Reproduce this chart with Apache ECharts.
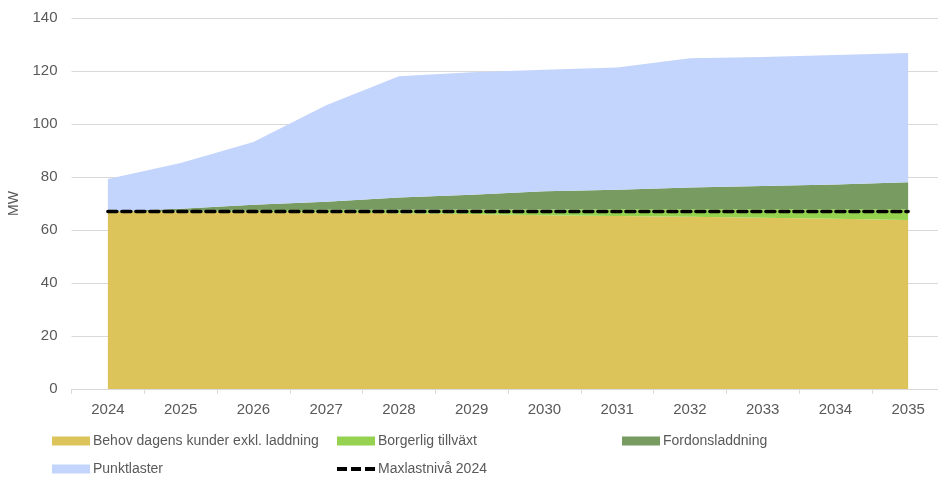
<!DOCTYPE html>
<html>
<head>
<meta charset="utf-8">
<script src="https://cdn.jsdelivr.net/npm/echarts@6/dist/echarts.min.js"></script>
<style>
  html, body { margin: 0; padding: 0; background: #fff; }
  #chart { width: 938px; height: 479px; }
</style>
</head>
<body>
<div id="chart"></div>
<script>
const years = ['2024', '2025', '2026', '2027', '2028', '2029', '2030', '2031', '2032', '2033', '2034', '2035'];
const behov = [67, 67, 66.8, 66.6, 66.3, 66, 65.6, 65.3, 65, 64.6, 64.2, 63.8];
const borgerlig = [0, 0.3, 0.6, 1.0, 1.3, 1.7, 2.1, 2.5, 2.8, 3.2, 3.6, 4.0];
const fordon = [0, 0.7, 2.1, 3.1, 4.7, 5.6, 6.9, 7.4, 8.2, 8.8, 9.4, 10.2];
const punkt = [12.2, 17.3, 23.7, 36.4, 45.7, 46.2, 45.9, 46.1, 48.8, 48.7, 48.8, 48.8];
const maxlast = [67, 67, 67, 67, 67, 67, 67, 67, 67, 67, 67, 67];

const textColor = '#595959';
const font = 'Liberation Sans';
const chart = echarts.init(document.getElementById('chart'));

function areaSeries (name, data, color) {
  return {
    name: name,
    type: 'line',
    stack: 'total',
    data: data,
    symbol: 'none',
    color: color,
    lineStyle: { width: 0 },
    areaStyle: { color: color, opacity: 1 },
    emphasis: { disabled: true }
  };
}

// en legend per post, så att de hamnar i samma rutnät som originalet
function legendItem (name, left, top, icon, h) {
  return {
    left: left,
    top: top,
    padding: 0,
    itemWidth: 38,
    itemHeight: h || 9,
    itemGap: 0,
    selectedMode: false,
    textStyle: { color: textColor, fontSize: 14, fontFamily: font, padding: [0, 0, 0, -2] },
    data: [{ name: name, icon: icon || 'rect' }]
  };
}

const dashIcon = 'path://M0,0h10v4h-10z M14,0h10v4h-10z M28,0h10v4h-10z';

chart.setOption({
  animation: false,
  grid: { left: 71.5, top: 18, width: 873, height: 371, outerBoundsMode: 'none' },
  legend: [
    legendItem('Behov dagens kunder exkl. laddning', 52, 434),
    legendItem('Borgerlig tillväxt', 337, 434),
    legendItem('Fordonsladdning', 622, 434),
    legendItem('Punktlaster', 52, 462),
    legendItem('Maxlastnivå 2024', 337, 462, dashIcon, 4)
  ],
  xAxis: {
    type: 'category',
    data: years,
    boundaryGap: true,
    axisLine: { lineStyle: { color: '#D9D9D9', width: 1 } },
    axisTick: { show: true, length: 5, lineStyle: { color: '#D9D9D9' } },
    axisLabel: { color: textColor, fontSize: 15, fontFamily: font, margin: 13 }
  },
  yAxis: {
    type: 'value',
    min: 0,
    max: 140,
    interval: 20,
    name: 'MW',
    nameLocation: 'middle',
    nameRotate: 90,
    nameGap: 45,
    nameTextStyle: { color: textColor, fontSize: 14, fontFamily: font },
    axisLine: { show: false },
    axisTick: { show: false },
    splitLine: { lineStyle: { color: '#D9D9D9', width: 1 } },
    axisLabel: { color: textColor, fontSize: 15, fontFamily: font, margin: 14 }
  },
  series: [
    areaSeries('Behov dagens kunder exkl. laddning', behov, '#DCC45B'),
    areaSeries('Borgerlig tillväxt', borgerlig, '#94D250'),
    areaSeries('Fordonsladdning', fordon, '#789B61'),
    areaSeries('Punktlaster', punkt, '#C3D5FC'),
    {
      name: 'Maxlastnivå 2024',
      type: 'line',
      data: maxlast,
      symbol: 'none',
      color: '#000',
      lineStyle: { color: '#000', width: 3.5, type: [9, 5], cap: 'round' },
      emphasis: { disabled: true },
      z: 5
    }
  ]
});
</script>
</body>
</html>
